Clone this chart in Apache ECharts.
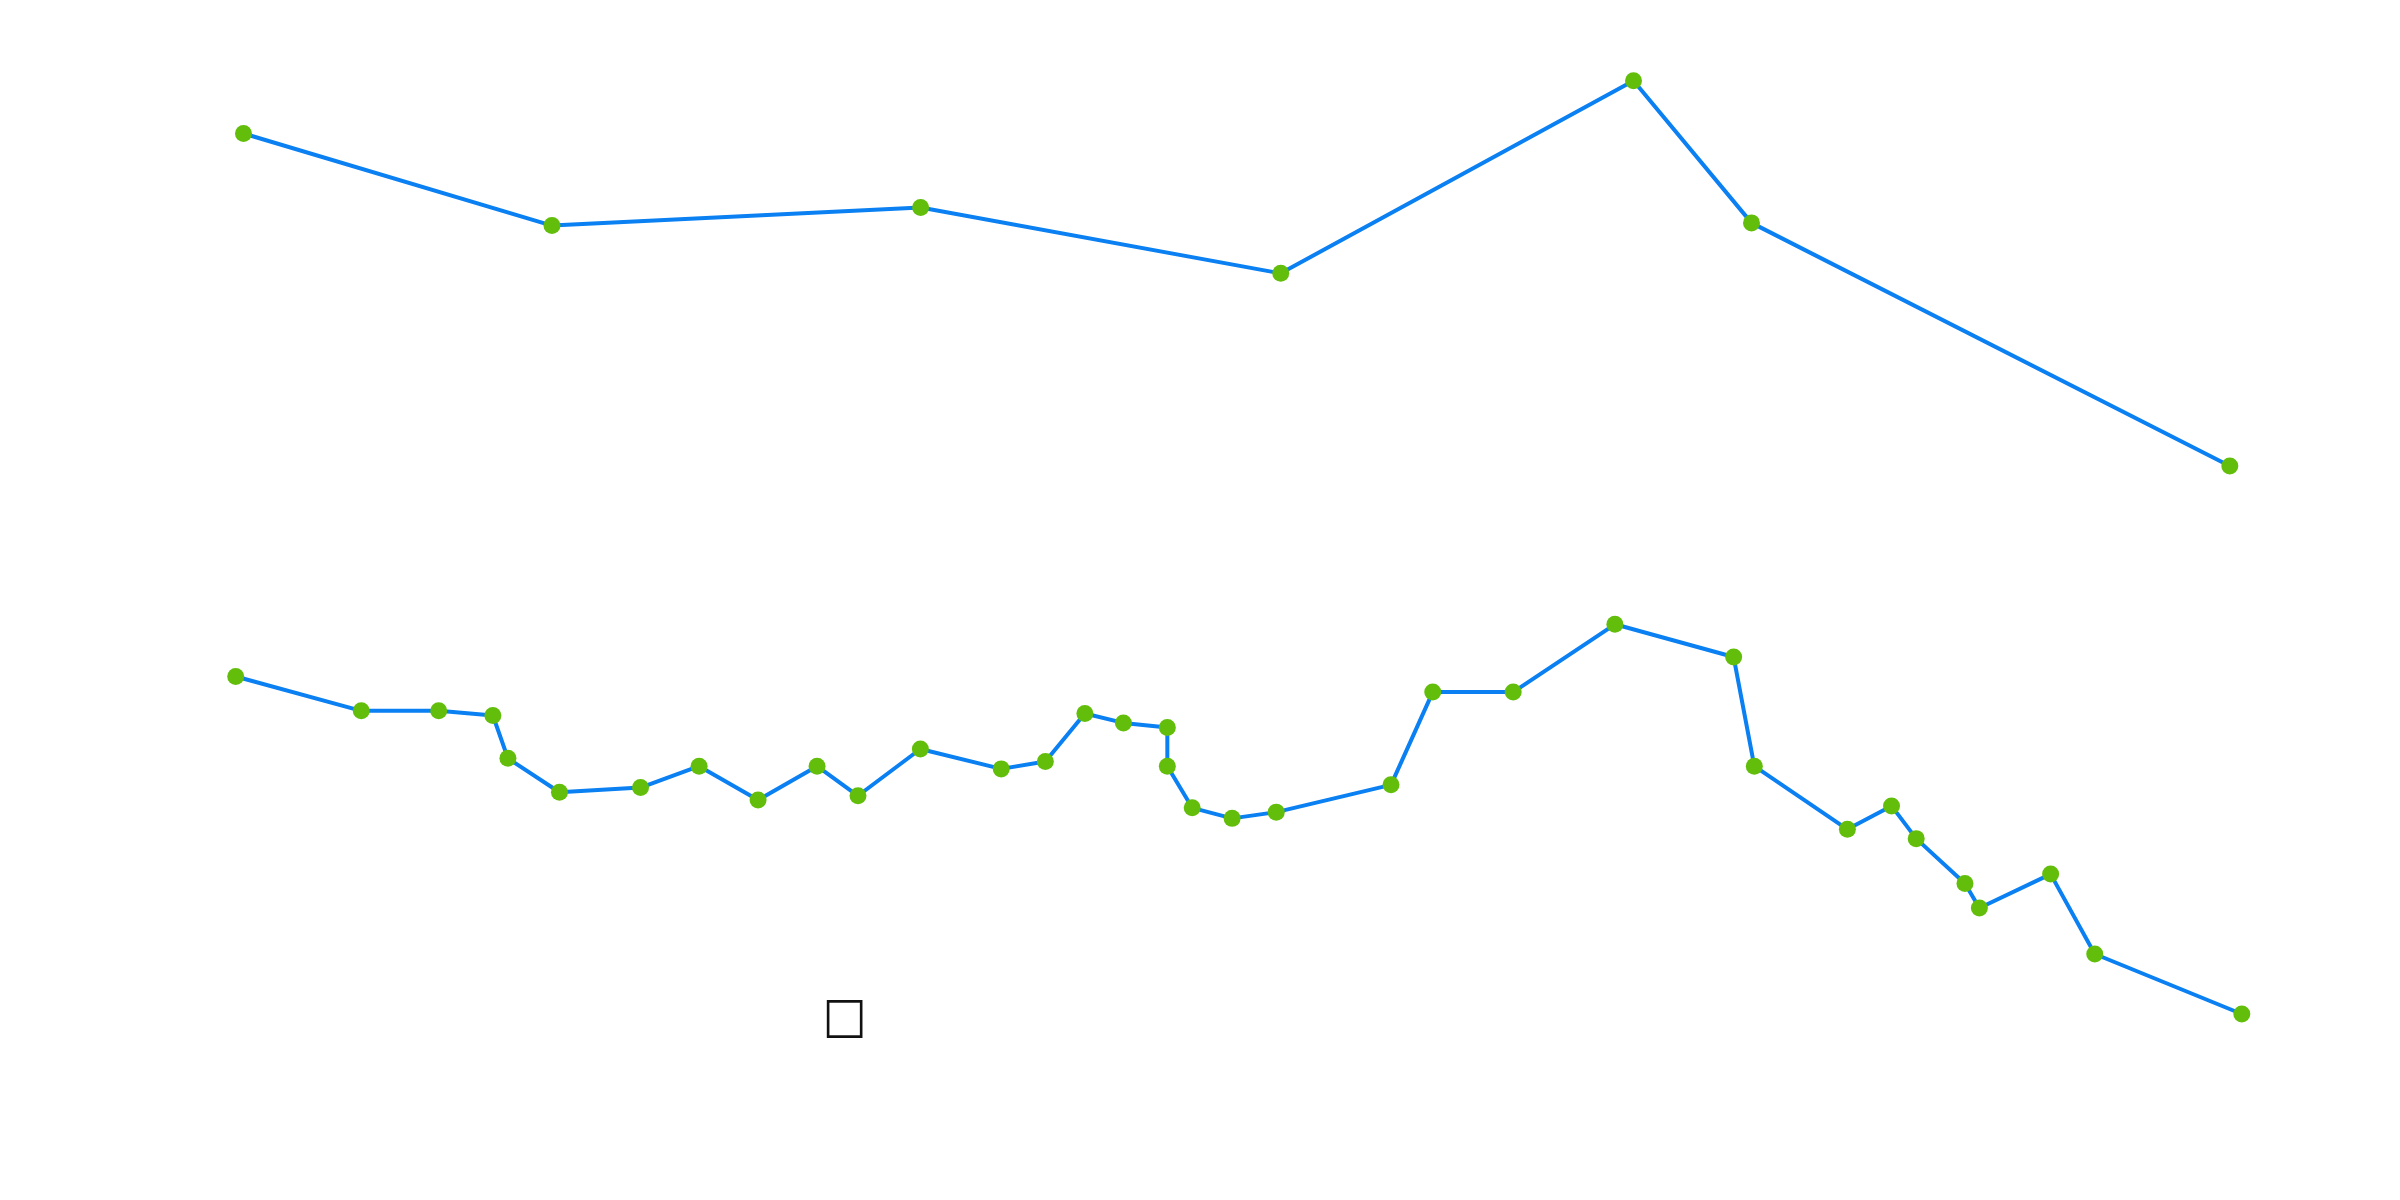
<!DOCTYPE html>
<html>
<head>
<meta charset="utf-8">
<script src="https://cdn.jsdelivr.net/npm/echarts@6/dist/echarts.min.js"></script>
<style>
html,body{margin:0;padding:0;background:#fff;}
#chart{width:2400px;height:1200px;}
</style>
</head>
<body>
<div id="chart"></div>
<script>
// Top series
const topX = [0, 155.3, 340.9, 522.2, 699.8, 759.2, 1000];
const topY = [86.3, 62.4, 67.1, 50.0, 100, 63.1, 0];

// Bottom series
const bottomX = [0, 62.6, 101.2, 128.2, 135.7, 161.4, 201.8, 231.0, 260.4, 289.8,
  310.2, 341.3, 381.6, 403.6, 423.3, 442.5, 464.4, 464.4, 476.8, 496.7,
  518.7, 575.9, 596.7, 636.8, 687.5, 746.7, 757.0, 803.4, 825.4, 837.7,
  862.0, 869.2, 904.7, 926.7, 1000];
const bottomY = [86.6, 77.8, 77.8, 76.6, 65.6, 56.9, 58.1, 63.6, 54.9, 63.6,
  56.0, 68.0, 62.9, 64.8, 77.1, 74.7, 73.5, 63.6, 52.9, 50.2,
  51.8, 58.8, 82.6, 82.6, 100, 91.6, 63.6, 47.4, 53.4, 45.0,
  33.5, 27.2, 35.9, 15.4, 0];

const markText = '\u25A1';

const lineColor = '#0A80F2';
const dotColor = '#62BE0A';

function pairs(xs, ys) { return xs.map((x, i) => [x, ys[i]]); }

const hiddenAxis = {
  axisLine: {show: false}, axisTick: {show: false},
  axisLabel: {show: false}, splitLine: {show: false}
};

const chart = echarts.init(document.getElementById('chart'));
chart.setOption({
  animation: false,
  backgroundColor: '#fff',
  grid: [
    {left: 243.5, right: 170.2, top: 80.7, height: 385.3},
    {left: 235.7, right: 158.2, top: 624.3, height: 389.7}
  ],
  xAxis: [
    Object.assign({type: 'value', gridIndex: 0, min: 0, max: 1000}, hiddenAxis),
    Object.assign({type: 'value', gridIndex: 1, min: 0, max: 1000}, hiddenAxis)
  ],
  yAxis: [
    Object.assign({type: 'value', gridIndex: 0, min: 0, max: 100}, hiddenAxis),
    Object.assign({type: 'value', gridIndex: 1, min: 0, max: 100}, hiddenAxis)
  ],
  graphic: [{
    type: 'text', x: 845, y: 1019, scaleY: 1.06,
    style: {text: markText, fontSize: 47, fill: '#111', align: 'center', verticalAlign: 'middle',
      fontFamily: 'DejaVu Sans'}
  }],
  series: [
    {
      type: 'line', xAxisIndex: 0, yAxisIndex: 0,
      data: pairs(topX, topY),
      symbol: 'circle', symbolSize: 17, showAllSymbol: true,
      lineStyle: {color: lineColor, width: 4},
      itemStyle: {color: dotColor, borderWidth: 0}
    },
    {
      type: 'line', xAxisIndex: 1, yAxisIndex: 1,
      data: pairs(bottomX, bottomY),
      symbol: 'circle', symbolSize: 17, showAllSymbol: true,
      lineStyle: {color: lineColor, width: 4},
      itemStyle: {color: dotColor, borderWidth: 0}
    }
  ]
});
</script>
</body>
</html>
